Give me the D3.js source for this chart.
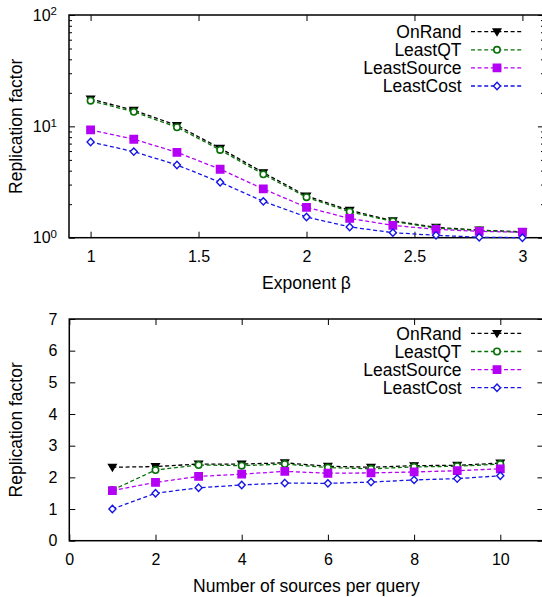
<!DOCTYPE html>
<html>
<head>
<meta charset="utf-8">
<script src="https://cdn.jsdelivr.net/npm/d3@7"></script>
<style>
  html, body { margin: 0; padding: 0; background: #fff; }
  svg { display: block; font-family: "Liberation Sans", Arial, Helvetica, sans-serif; }
  .tick text { font-size: 16px; fill: #000; }
</style>
</head>
<body>
<svg id="chart" width="542" height="597"></svg>
<script>
// Replication factor vs. Zipf exponent (top) and vs. sources per query (bottom)
const seriesNames = ["OnRand", "LeastQT", "LeastSource", "LeastCost"];
const seriesColors = ["#000000", "#0a700a", "#b400f5", "#1414e6"];
const seriesMarkers = ["triangleDown", "circle", "square", "diamond"];

const betaValues = [1.0, 1.2, 1.4, 1.6, 1.8, 2.0, 2.2, 2.4, 2.6, 2.8, 3.0];
const betaOnRand      = [17.6, 13.95, 10.2, 6.36, 3.84, 2.37, 1.76, 1.42, 1.24, 1.17, 1.13];
const betaLeastQT     = [17.0, 13.5, 9.82, 6.14, 3.71, 2.31, 1.71, 1.40, 1.22, 1.16, 1.12];
const betaLeastSource = [9.29, 7.66, 5.85, 4.12, 2.74, 1.875, 1.49, 1.29, 1.19, 1.14, 1.12];
const betaLeastCost   = [7.24, 5.93, 4.50, 3.15, 2.12, 1.535, 1.25, 1.11, 1.05, 1.01, 1.00];

const sourceCounts = [1, 2, 3, 4, 5, 6, 7, 8, 9, 10];
const srcOnRand      = [2.32, 2.34, 2.42, 2.42, 2.46, 2.35, 2.32, 2.37, 2.38, 2.45];
const srcLeastQT     = [1.60, 2.23, 2.39, 2.37, 2.42, 2.31, 2.27, 2.33, 2.35, 2.42];
const srcLeastSource = [1.58, 1.84, 2.03, 2.10, 2.19, 2.13, 2.14, 2.17, 2.21, 2.27];
const srcLeastCost   = [1.00, 1.50, 1.67, 1.76, 1.82, 1.81, 1.85, 1.92, 1.96, 2.05];

const betaTicks = [1, 1.5, 2, 2.5, 3];
const logMajorTicks = [1, 10, 100];
const logMinorTicks = [2, 3, 4, 5, 6, 7, 8, 9, 20, 30, 40, 50, 60, 70, 80, 90];
const sourceTicks = [0, 2, 4, 6, 8, 10];
const linearYTicks = [0, 1, 2, 3, 4, 5, 6, 7];

const svg = d3.select("#chart");

function markerPath(kind) {
  switch (kind) {
    case "triangleDown": return "M-3.8,-2.8L3.8,-2.8L0,3.6Z";
    case "circle": return "M3.2,0A3.2,3.2 0 1,1 -3.2,0A3.2,3.2 0 1,1 3.2,0Z";
    case "square": return "M-3.7,-3.7H3.7V3.7H-3.7Z";
    case "diamond": return "M0,-3.7L3.5,0L0,3.7L-3.5,0Z";
  }
}
function markerFill(kind, color) {
  return (kind === "circle" || kind === "diamond") ? "#fff" : color;
}
function drawMarker(g, kind, color, x, y) {
  g.append("path")
    .attr("d", markerPath(kind))
    .attr("transform", `translate(${x},${y})`)
    .attr("fill", markerFill(kind, color))
    .attr("stroke", color)
    .attr("stroke-width", kind === "circle" ? 1.6 : 1.4);
}

function drawPanel(opts) {
  const { x, y, xTicks, yMajor, yMinor, yLabelFn, xTitle, series, xs, legendTop } = opts;
  const [x0, x1] = x.range();
  const [yb, yt] = y.range();
  const g = svg.append("g");

  // mirrored inward ticks on all four sides
  const axisConf = (axis, vals, size, withLabels) => axis.tickValues(vals)
    .tickSizeInner(-size).tickSizeOuter(0).tickPadding(withLabels ? 12.5 : 0)
    .tickFormat(withLabels ? null : () => "");

  g.append("g").attr("transform", `translate(0,${yb})`)
    .call(axisConf(d3.axisBottom(x), xTicks, 6, true).tickFormat(d3.format("")));
  g.append("g").attr("transform", `translate(0,${yt})`)
    .call(axisConf(d3.axisTop(x), xTicks, 6, false));
  const left = g.append("g").attr("transform", `translate(${x0},0)`)
    .call(axisConf(d3.axisLeft(y), yMajor, 6, true).tickPadding(12).tickFormat(() => ""));
  g.append("g").attr("transform", `translate(${x1},0)`)
    .call(axisConf(d3.axisRight(y), yMajor, 6, false));
  if (yMinor) {
    g.append("g").attr("transform", `translate(${x0},0)`)
      .call(axisConf(d3.axisLeft(y), yMinor, 3, false));
    g.append("g").attr("transform", `translate(${x1},0)`)
      .call(axisConf(d3.axisRight(y), yMinor, 3, false));
  }
  g.selectAll(".domain").remove();
  g.selectAll(".tick line").attr("stroke", "#000").attr("stroke-width", 1);

  // y tick labels (may contain superscripts)
  left.selectAll(".tick text").each(function (d) {
    yLabelFn(d3.select(this).attr("dy", "0.32em"), d);
  });

  // frame
  g.append("rect").attr("x", x0).attr("y", yt)
    .attr("width", x1 - x0).attr("height", yb - yt)
    .attr("fill", "none").attr("stroke", "#000").attr("stroke-width", 1.5);

  // axis titles
  g.append("text").attr("x", (x0 + x1) / 2).attr("y", yb + 51.5)
    .attr("text-anchor", "middle").attr("font-size", 17.5).text(xTitle);
  g.append("text")
    .attr("transform", `translate(21.5,${(yt + yb) / 2}) rotate(-90)`)
    .attr("text-anchor", "middle").attr("font-size", 17.5).text("Replication factor");

  // series
  const line = d3.line().x((d, i) => x(xs[i])).y(d => y(d));
  series.forEach((vals, k) => {
    const color = seriesColors[k];
    g.append("path").datum(vals).attr("d", line)
      .attr("fill", "none").attr("stroke", color)
      .attr("stroke-width", 1.3).attr("stroke-dasharray", "4,2.6");
    vals.forEach((v, i) => drawMarker(g, seriesMarkers[k], color, x(xs[i]), y(v)));
  });

  // legend
  const lx0 = 471, lx1 = 523, ltx = 461.5, rowH = 18.1;
  seriesNames.forEach((name, k) => {
    const ly = legendTop + k * rowH;
    g.append("text").attr("x", ltx).attr("y", ly + 6.2)
      .attr("text-anchor", "end").attr("font-size", 17.5).text(name);
    g.append("line").attr("x1", lx0).attr("x2", lx1).attr("y1", ly).attr("y2", ly)
      .attr("stroke", seriesColors[k]).attr("stroke-width", 1.3)
      .attr("stroke-dasharray", "4,2.6");
    drawMarker(g, seriesMarkers[k], seriesColors[k], (lx0 + lx1) / 2, ly);
  });
}

// Top panel: log-scale replication factor vs exponent beta
const xBeta = d3.scaleLinear().domain([0.9, 3.1]).range([69, 544]);
const yLog = d3.scaleLog().domain([1, 100]).range([237.7, 15]);
drawPanel({
  x: xBeta, y: yLog, xTicks: betaTicks,
  yMajor: logMajorTicks, yMinor: logMinorTicks,
  yLabelFn: (t, d) => {
    t.text(null);
    t.append("tspan").text("10");
    t.append("tspan").attr("dy", "-0.45em").attr("font-size", 11.5)
      .text(Math.round(Math.log10(d)));
  },
  xTitle: "Exponent \u03B2",
  series: [betaOnRand, betaLeastQT, betaLeastSource, betaLeastCost],
  xs: betaValues,
  legendTop: 31.7
});

// Bottom panel: linear replication factor vs number of sources per query
const xSrc = d3.scaleLinear().domain([0, 11]).range([69.3, 543.4]);
const yLin = d3.scaleLinear().domain([0, 7]).range([540.7, 319]);
drawPanel({
  x: xSrc, y: yLin, xTicks: sourceTicks,
  yMajor: linearYTicks, yMinor: null,
  yLabelFn: (t, d) => t.text(d),
  xTitle: "Number of sources per query",
  series: [srcOnRand, srcLeastQT, srcLeastSource, srcLeastCost],
  xs: sourceCounts,
  legendTop: 333.4
});
</script>
</body>
</html>
